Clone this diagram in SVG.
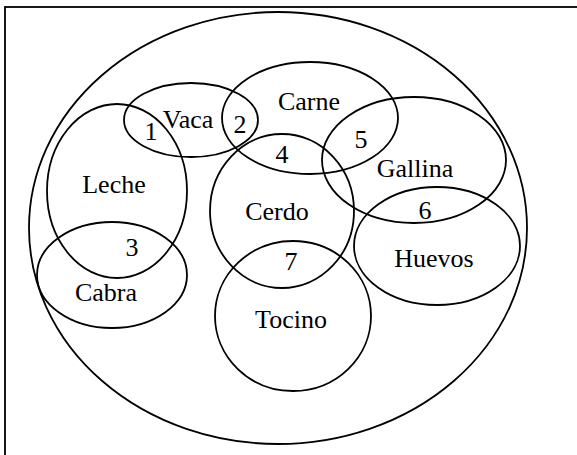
<svg xmlns="http://www.w3.org/2000/svg" width="577" height="455" viewBox="0 0 577 455">
<style>
.s{fill:none;stroke:#000;stroke-width:1.8}
.t{font-family:'Liberation Serif','Times New Roman',serif;font-size:26px;fill:#000;text-anchor:middle}
</style>
<rect x="0" y="0" width="577" height="455" fill="#fff"/>
<rect class="s" x="5" y="7" width="600" height="500"/>
<g id="universo"><ellipse class="s" cx="278" cy="228" rx="249" ry="216"/></g>
<g id="vaca"><ellipse class="s" cx="191" cy="120" rx="67" ry="37"/><text class="t" font-family="Liberation Serif, serif" x="188" y="128">Vaca</text></g>
<g id="carne"><ellipse class="s" cx="310" cy="118" rx="88" ry="56"/><text class="t" font-family="Liberation Serif, serif" x="309" y="110">Carne</text></g>
<g id="leche"><ellipse class="s" cx="117" cy="191" rx="70" ry="87"/><text class="t" font-family="Liberation Serif, serif" x="114" y="193">Leche</text></g>
<g id="cabra"><ellipse class="s" cx="112" cy="275" rx="75" ry="53"/><text class="t" font-family="Liberation Serif, serif" x="106" y="301">Cabra</text></g>
<g id="cerdo"><ellipse class="s" cx="282" cy="211" rx="72" ry="77"/><text class="t" font-family="Liberation Serif, serif" x="277" y="220">Cerdo</text></g>
<g id="gallina"><ellipse class="s" cx="414" cy="160" rx="92" ry="63"/><text class="t" font-family="Liberation Serif, serif" x="415" y="177">Gallina</text></g>
<g id="huevos"><ellipse class="s" cx="437" cy="246" rx="83" ry="59"/><text class="t" font-family="Liberation Serif, serif" x="434" y="267">Huevos</text></g>
<g id="tocino"><ellipse class="s" cx="293" cy="316" rx="78" ry="75"/><text class="t" font-family="Liberation Serif, serif" x="291" y="328">Tocino</text></g>
<g id="numeros" class="t" font-family="Liberation Serif, serif">
<text class="t" x="151" y="140">1</text>
<text class="t" x="240" y="133">2</text>
<text class="t" x="132" y="256">3</text>
<text class="t" x="282" y="163">4</text>
<text class="t" x="361" y="148">5</text>
<text class="t" x="425" y="219">6</text>
<text class="t" x="291" y="270">7</text>
</g>
</svg>
